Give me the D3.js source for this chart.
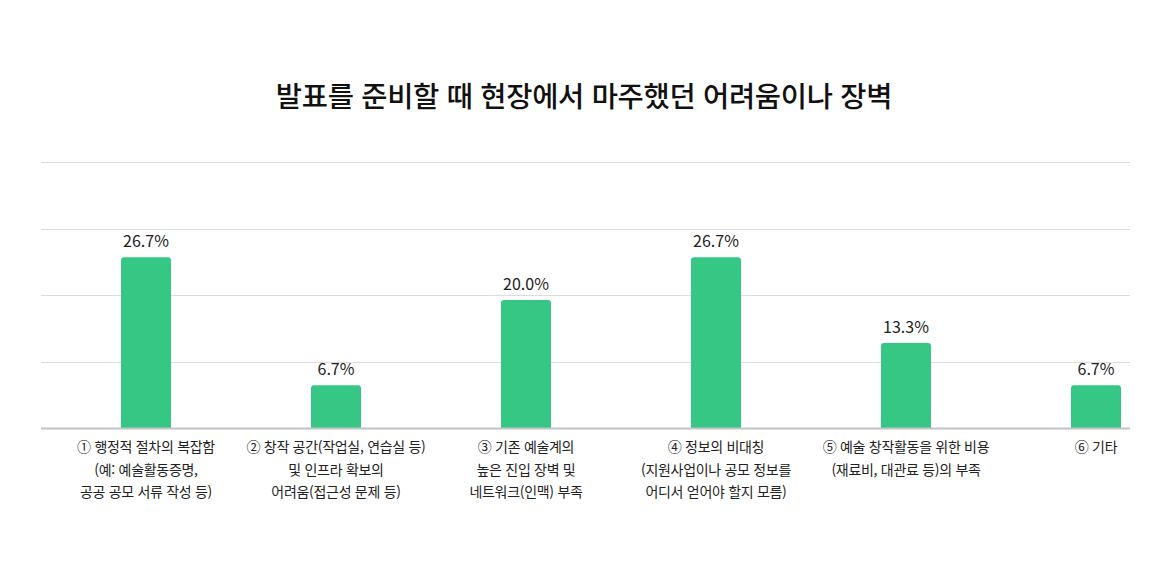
<!DOCTYPE html>
<html lang="ko">
<head>
<meta charset="utf-8">
<script src="https://cdn.jsdelivr.net/npm/d3@7"></script>
<style>
  body { margin: 0; background: #fff; }
  svg text { font-family: "Noto Sans CJK KR", "Noto Sans", sans-serif; }
</style>
</head>
<body>
<svg id="chart" width="1170" height="580"></svg>
<script>

// chart data
const title = "발표를 준비할 때 현장에서 마주했던 어려움이나 장벽";
const categories = [
  ["① 행정적 절차의 복잡함", "(예: 예술활동증명,", "공공 공모 서류 작성 등)"],
  ["② 창작 공간(작업실, 연습실 등)", "및 인프라 확보의", "어려움(접근성 문제 등)"],
  ["③ 기존 예술계의", "높은 진입 장벽 및", "네트워크(인맥) 부족"],
  ["④ 정보의 비대칭", "(지원사업이나 공모 정보를", "어디서 얻어야 할지 모름)"],
  ["⑤ 예술 창작활동을 위한 비용", "(재료비, 대관료 등)의 부족"],
  ["⑥ 기타"]
];
const values = [26.7, 6.7, 20.0, 26.7, 13.3, 6.7];

// layout
const svg = d3.select("#chart");
const margin = {top: 162, right: 40, bottom: 152, left: 41};
const width = 1170 - margin.left - margin.right,
      height = 580 - margin.top - margin.bottom;
const yMax = 41.6;

const g = svg.append("g")
  .attr("transform", "translate(" + margin.left + "," + margin.top + ")");

// scales
const x = d3.scalePoint()
  .domain(d3.range(values.length))
  .range([105, width - 34]);
const y = d3.scaleLinear()
  .domain([0, yMax])
  .range([height, 0]);

// title
svg.append("text")
  .text(title)
  .attr("x", 584)
  .attr("y", 107)
  .attr("text-anchor", "middle")
  .attr("font-size", 28.5)
  .attr("font-weight", 500)
  .attr("letter-spacing", -0.3)
  .attr("fill", "#111");

// gridlines
g.selectAll("line.grid")
  .data(d3.range(1, 5).map(i => yMax * i / 4))
  .enter().append("line")
  .attr("class", "grid")
  .attr("x1", 0)
  .attr("x2", width)
  .attr("y1", d => Math.round(y(d)) + 0.5)
  .attr("y2", d => Math.round(y(d)) + 0.5)
  .attr("stroke", "#dcdcdc")
  .attr("stroke-width", 1);

// bars (rounded top corners)
const bw = 50, r = 3;
function barPath(i) {
  const x0 = x(i) - bw / 2, x1 = x(i) + bw / 2,
        y0 = y(values[i]), yb = y(0);
  return "M" + x0 + "," + yb +
    "V" + (y0 + r) + "Q" + x0 + "," + y0 + " " + (x0 + r) + "," + y0 +
    "H" + (x1 - r) + "Q" + x1 + "," + y0 + " " + x1 + "," + (y0 + r) +
    "V" + yb + "Z";
}

g.selectAll("path.bar")
  .data(values)
  .enter().append("path")
  .attr("class", "bar")
  .attr("d", (d, i) => barPath(i))
  .attr("fill", "#36c785");

// value labels
g.selectAll("text.value")
  .data(values)
  .enter().append("text")
  .attr("class", "value")
  .text(d => d3.format(".1f")(d) + "%")
  .attr("x", (d, i) => x(i))
  .attr("y", d => y(d) - 10)
  .attr("text-anchor", "middle")
  .attr("font-size", 16)
  .attr("fill", "#222");

// baseline
g.append("line")
  .attr("x1", 0)
  .attr("x2", width)
  .attr("y1", height + 0.5)
  .attr("y2", height + 0.5)
  .attr("stroke", "#c4c4c4")
  .attr("stroke-width", 2);

// category labels
const labels = g.selectAll("text.cat")
  .data(categories)
  .enter().append("text")
  .attr("class", "cat")
  .attr("text-anchor", "middle")
  .attr("font-size", 14)
  .attr("letter-spacing", -0.3)
  .attr("fill", "#222");

labels.selectAll("tspan")
  .data((d, i) => d.map(t => ({t: t, i: i})))
  .enter().append("tspan")
  .text(d => d.t)
  .attr("x", d => x(d.i))
  .attr("y", (d, j) => height + 24 + j * 22.5);

</script>
</body>
</html>
